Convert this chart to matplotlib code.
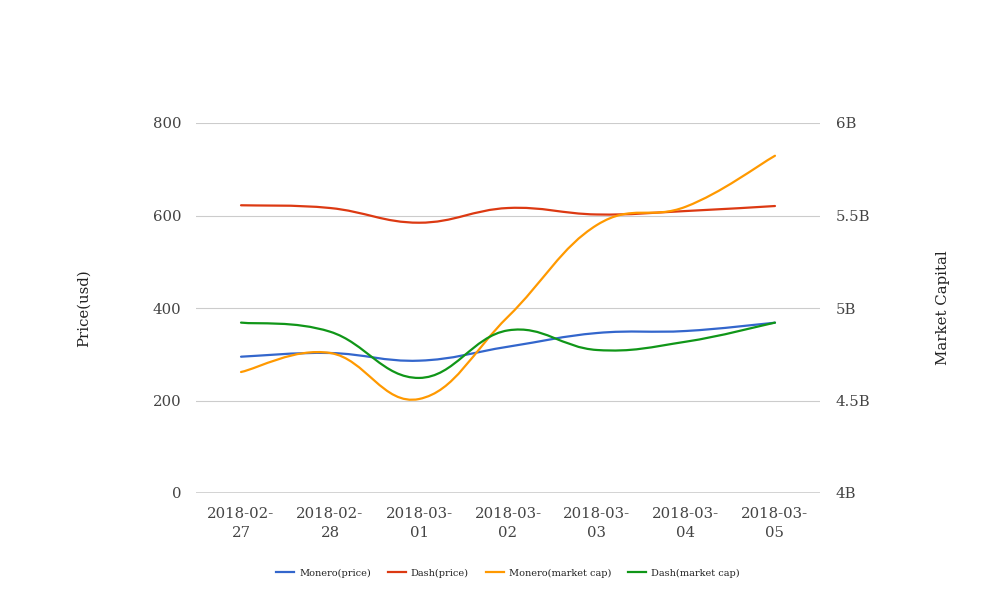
import numpy as np
import matplotlib.pyplot as plt
from matplotlib.path import Path
from matplotlib.patches import PathPatch
from matplotlib.lines import Line2D
from matplotlib.ticker import FuncFormatter

plt.rcParams['font.family'] = ['DejaVu Serif']

# Daten
dates = ['2018-02-27', '2018-02-28', '2018-03-01', '2018-03-02',
         '2018-03-03', '2018-03-04', '2018-03-05']
monero_price = [294.7, 302.7, 286.1, 316.3, 345.9, 350.3, 368.2]
dash_price = [622.1, 616.2, 584.4, 616.2, 602.2, 609.7, 620.5]
monero_cap = [4.654e9, 4.757e9, 4.508e9, 4.953e9, 5.449e9, 5.548e9, 5.823e9]
dash_cap = [4.921e9, 4.872e9, 4.622e9, 4.879e9, 4.773e9, 4.818e9, 4.921e9]

C_BLUE = '#3366cc'
C_RED = '#dc3912'
C_ORANGE = '#ff9900'
C_GREEN = '#109618'


def smooth_path(xs, ys, t=0.2):
    # Bezier-Pfad durch die Punkte (wie curveType 'function')
    p = np.column_stack([xs, ys]).astype(float)
    n = len(p)
    verts = [p[0]]
    codes = [Path.MOVETO]
    for i in range(n - 1):
        p0 = p[max(i - 1, 0)]
        p1 = p[i]
        p2 = p[i + 1]
        p3 = p[min(i + 2, n - 1)]
        c1 = p1 + (p2 - p0) * t
        c2 = p2 - (p3 - p1) * t
        verts += [c1, c2, p2]
        codes += [Path.CURVE4] * 3
    return Path(verts, codes)


fig = plt.figure(figsize=(10.08, 6.16), dpi=100)
ax1 = fig.add_axes([196 / 1008, 123 / 616, 624 / 1008, 370 / 616])
ax2 = ax1.twinx()

x = np.arange(len(dates))

for ax, ys, col in [(ax1, monero_price, C_BLUE), (ax1, dash_price, C_RED),
                    (ax2, monero_cap, C_ORANGE), (ax2, dash_cap, C_GREEN)]:
    ax.add_patch(PathPatch(smooth_path(x, ys), facecolor='none',
                           edgecolor=col, lw=1.6, capstyle='round', zorder=3))

ax1.set_xlim(-0.506, 6.506)
ax1.set_ylim(0, 800)
ax2.set_ylim(4e9, 6e9)
ax1.set_yticks([0, 200, 400, 600, 800])
ax2.set_yticks([4e9, 4.5e9, 5e9, 5.5e9, 6e9])
ax2.yaxis.set_major_formatter(FuncFormatter(lambda v, p: f'{v / 1e9:g}B'))

ax1.set_xticks(x)
ax1.set_xticklabels([d[:8] + '\n' + d[8:] for d in dates], linespacing=1.45)

ax1.grid(True, axis='y', color='#cccccc', lw=0.8)
ax1.set_axisbelow(True)
for ax in (ax1, ax2):
    for s in ax.spines.values():
        s.set_visible(False)
    ax.tick_params(length=0, labelsize=10.7, colors='#444444')
ax1.axhline(0, color='#333333', lw=1, zorder=2)
ax1.tick_params(axis='y', pad=10.5)
ax1.tick_params(axis='x', pad=10)
ax2.tick_params(axis='y', pad=11.5)

ax1.set_ylabel('Price(usd)', fontsize=10.7, color='#222222', labelpad=45)
ax2.set_ylabel('Market Capital', fontsize=10.7, color='#222222', labelpad=47)

# Legende
handles = [Line2D([], [], color=c, lw=1.6) for c in (C_BLUE, C_RED, C_ORANGE, C_GREEN)]
labels = ['Monero(price)', 'Dash(price)', 'Monero(market cap)', 'Dash(market cap)']
fig.legend(handles, labels, loc='center', bbox_to_anchor=(508 / 1008, 1 - 573 / 616),
           ncol=4, frameon=False, fontsize=7, handlelength=1.85, handletextpad=0.5,
           columnspacing=1.75, labelcolor='#222222')

fig.savefig('out.png', dpi=100)
